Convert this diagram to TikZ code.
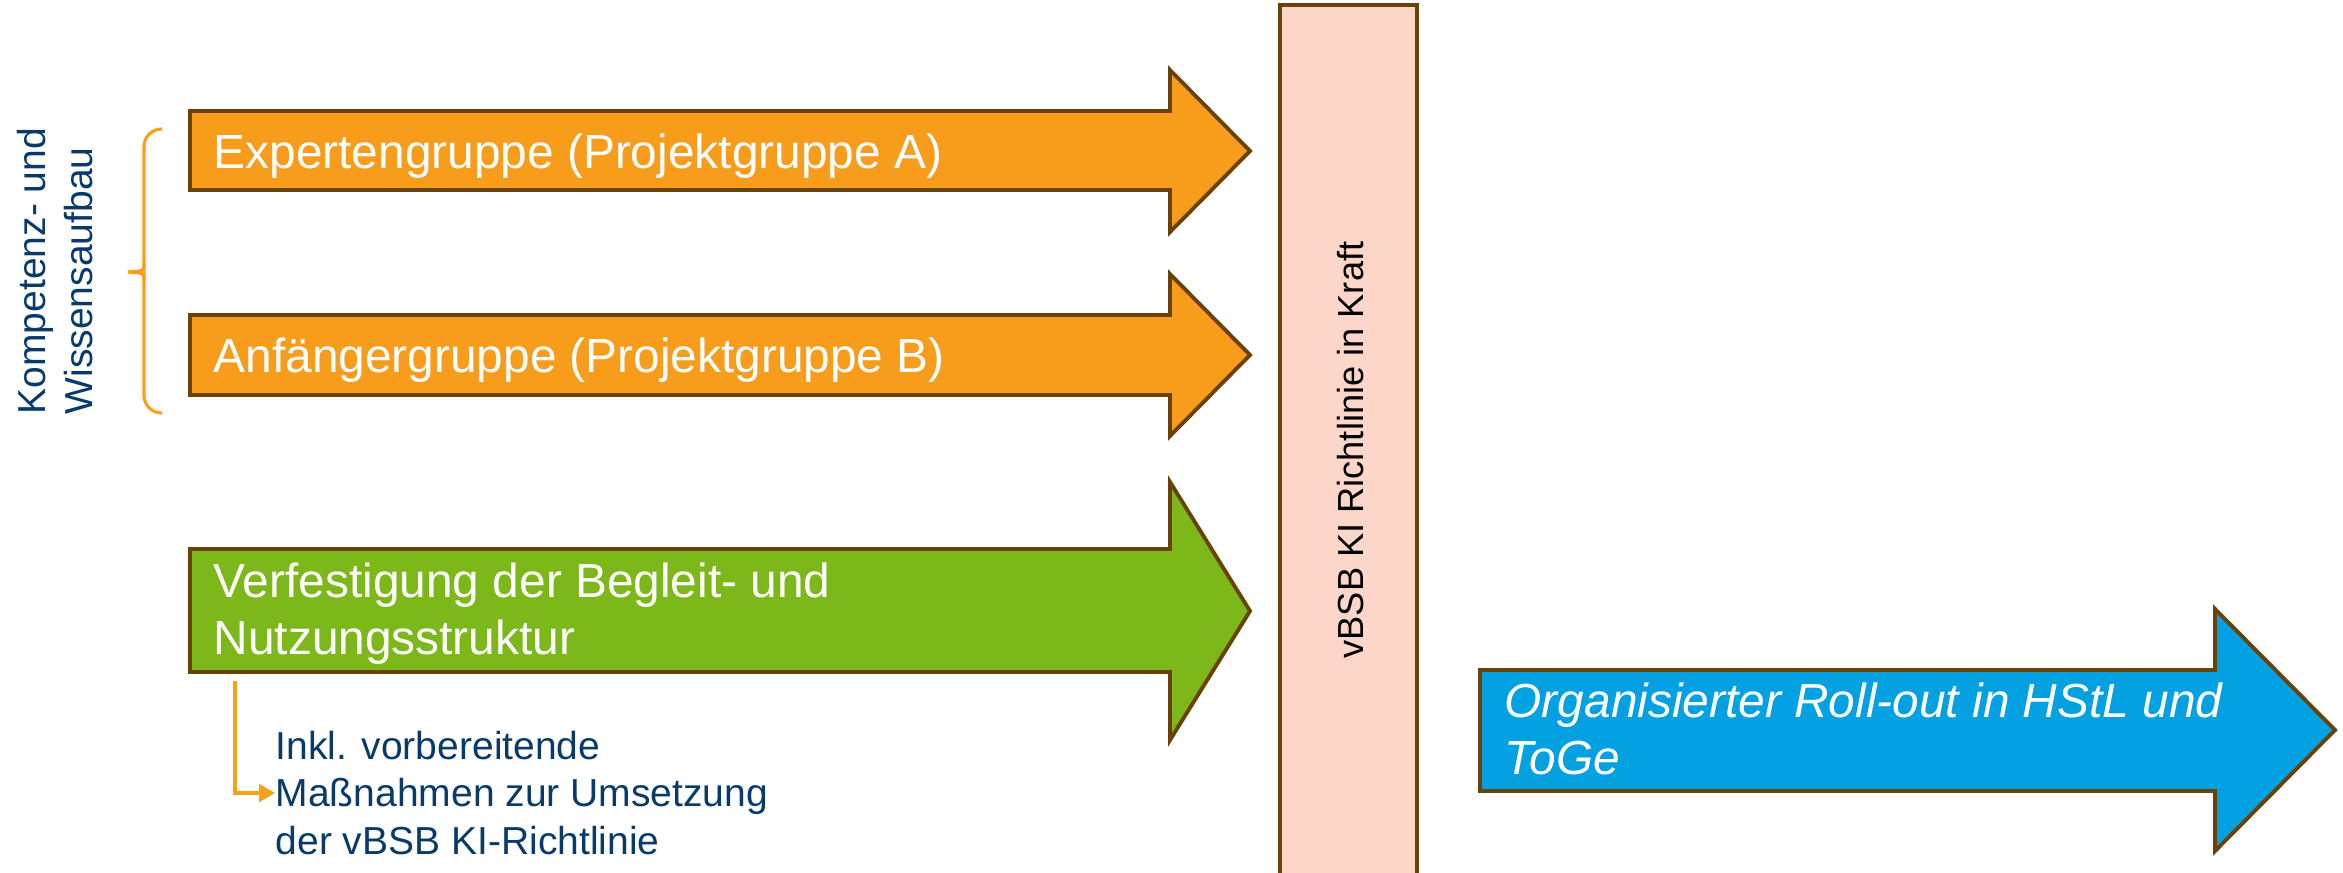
\documentclass[tikz,border=0pt]{standalone}
\usepackage{fontspec}
\setmainfont{Liberation Sans}
\usetikzlibrary{arrows.meta}
\definecolor{orfill}{HTML}{F89C1C}
\definecolor{brownline}{HTML}{6A4106}
\definecolor{grfill}{HTML}{7DB81A}
\definecolor{blfill}{HTML}{03A1E2}
\definecolor{barfill}{HTML}{FDD6CA}
\definecolor{navytext}{HTML}{083A6B}
\definecolor{braceor}{HTML}{F9A11B}
\tikzset{
  arrowshape/.style={draw=brownline, line width=1.1pt, line join=miter},
  arrowtext/.style={text=white, inner sep=0pt, font=\fontsize{13.6pt}{16.2pt}\selectfont, align=left},
  sidetext/.style={text=navytext, inner sep=0pt, font=\fontsize{11.1pt}{13.3pt}\selectfont, align=left},
  bartext/.style={text=black, inner sep=0pt, font=\fontsize{10.3pt}{12pt}\selectfont, rotate=90},
  orline/.style={draw=braceor, line width=0.9pt}
}
\begin{document}
\begin{tikzpicture}[x=0.01cm, y=-0.01cm]
\useasboundingbox (0,0) rectangle (2343,872);

% vertical bar
\draw[arrowshape, fill=barfill] (1280,890) -- (1280,5) -- (1417,5) -- (1417,890);
\node[bartext] (bartxt) at (1351,450) {vBSB KI Richtlinie in Kraft};

% arrow A
\draw[arrowshape, fill=orfill] (190,111) -- (1170,111) -- (1170,70) -- (1250,151) -- (1170,232) -- (1170,190) -- (190,190) -- cycle;
\node[arrowtext, anchor=base west] (txtA) at (213,168) {Expertengruppe (Projektgruppe A)};

% arrow B
\draw[arrowshape, fill=orfill] (190,315) -- (1170,315) -- (1170,274) -- (1250,355) -- (1170,436) -- (1170,395) -- (190,395) -- cycle;
\node[arrowtext, anchor=base west] (txtB) at (213,372) {Anfängergruppe (Projektgruppe B)};

% arrow C
\draw[arrowshape, fill=grfill] (190,549) -- (1170,549) -- (1170,482) -- (1250,611) -- (1170,740) -- (1170,672) -- (190,672) -- cycle;
\node[arrowtext, anchor=west] (txtC) at (213,614) {Verfestigung der Begleit- und\\Nutzungsstruktur};

% blue arrow
\draw[arrowshape, fill=blfill] (1480,670) -- (2215,670) -- (2215,609) -- (2335,730) -- (2215,851) -- (2215,791) -- (1480,791) -- cycle;
\node[arrowtext, anchor=west, font=\fontsize{13.6pt}{16.2pt}\selectfont\itshape] (txtD) at (1504,729) {Organisierter Roll-out in HStL und\\ToGe};

% brace
\draw[orline, rounded corners=5] (162,129) -- (144,129) -- (144,272);
\draw[orline, rounded corners=5] (144,272) -- (144,413) -- (162,413);
\draw[orline] (144,263) .. controls (144,271) .. (128,272);
\draw[orline] (144,281) .. controls (144,273) .. (128,272);
\coordinate (bracetip) at (128,272);

% rotated label
\node[sidetext, rotate=90, anchor=west] (sidelbl) at (55,415) {Kompetenz- und\\Wissensaufbau};

% note below green arrow
\node[sidetext, anchor=west, font=\fontsize{11.1pt}{13.4pt}\selectfont] (note) at (275,793) {Inkl. vorbereitende\\Maßnahmen zur Umsetzung\\der vBSB KI-Richtlinie};
\coordinate (notestart) at (235,681);
\draw[orline, -{Triangle[length=4.5pt,width=5pt]}] (notestart) |- (note.west);

\end{tikzpicture}
\end{document}
